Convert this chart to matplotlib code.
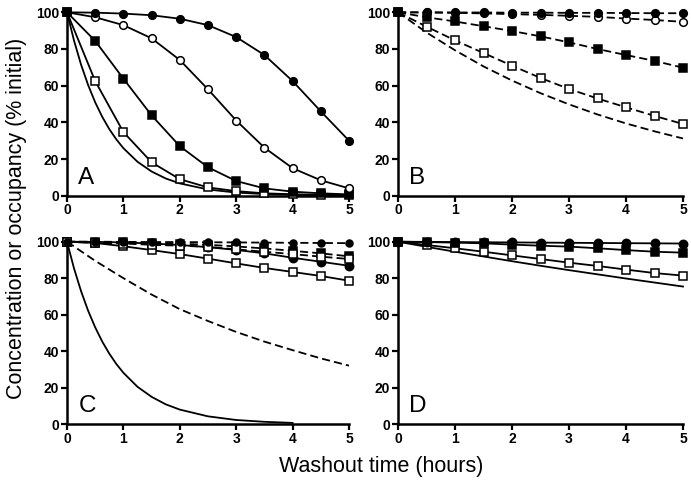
import matplotlib
matplotlib.use("Agg")
import matplotlib.pyplot as plt

plt.rcParams['font.family'] = ['Liberation Sans', 'DejaVu Sans']

######### Data #########
hours = [0, 0.5, 1, 1.5, 2, 2.5, 3, 3.5, 4, 4.5, 5]
fine_hours = [0, 0.125, 0.25, 0.375, 0.5, 0.625, 0.75, 0.875, 1,
              1.25, 1.5, 1.75, 2, 2.5, 3, 3.5, 4, 4.5, 5]

# panel A (solid)
a_filled_circle = [100, 99.8, 99.3, 98.4, 96.5, 93.0, 86.5, 76.7, 62.5, 46.0, 30.0]
a_open_circle = [100, 97.3, 93.0, 85.8, 74.0, 58.0, 41.0, 26.2, 15.0, 8.4, 4.0]
a_filled_square = [100, 84.4, 63.8, 43.8, 27.0, 15.5, 8.0, 4.0, 2.2, 1.3, 0.7]
a_open_square = [100, 62.5, 34.7, 18.2, 9.0, 4.5, 2.5, 1.3, 0.8, 0.5, 0.4]
a_curve = [100, 84.5, 71.4, 60.3, 50.9, 43.0, 36.3, 30.7, 25.9,
           18.5, 13.2, 9.4, 6.7, 3.4, 1.7, 0.9, 0.5, 0.2, 0.1]

# panel B (dashed)
b_filled_circle = [100, 100, 99.9, 99.9, 99.8, 99.8, 99.7, 99.7, 99.6, 99.5, 99.5]
b_open_circle = [100, 99.9, 99.7, 99.4, 99.0, 98.6, 98.1, 97.5, 96.6, 95.8, 94.8]
b_filled_square = [100, 97.3, 95.0, 92.4, 89.8, 86.9, 83.6, 80.0, 76.7, 73.5, 69.8]
b_open_square = [100, 92.2, 84.7, 77.8, 70.9, 64.2, 58.2, 53.0, 48.2, 43.5, 39.1]
b_curve = [100, 89.0, 79.3, 70.5, 62.8, 55.9, 49.8, 44.3, 39.4, 35.1, 31.2]

# panel C (mixed)
c_filled_circle_dash = [100, 100, 99.9, 99.8, 99.8, 99.7, 99.6, 99.5, 99.4, 99.3, 99.2]
c_filled_square_dash = [100, 99.8, 99.6, 99.3, 98.9, 98.3, 97.4, 96.3, 95.0, 93.6, 92.0]
c_open_square_dash = [100, 99.4, 99.0, 98.3, 97.8, 97.2, 95.8, 94.5, 93.2, 91.8, 90.5]
c_filled_circle_solid = [100, 99.9, 99.6, 99.0, 98.2, 97.0, 95.5, 93.6, 91.2, 89.0, 86.8]
c_open_square_solid = [100, 99.3, 97.5, 95.4, 93.2, 90.7, 88.1, 85.6, 83.4, 81.2, 78.6]
c_fast_hours = fine_hours[:-2]
c_fast_curve = [100, 85.3, 72.8, 62.1, 53.0, 45.2, 38.6, 32.9, 28.1,
                20.4, 14.9, 10.8, 7.9, 4.2, 2.2, 1.2, 0.6]
c_slow_curve = [100, 89.5, 80.0, 71.0, 63.0, 56.5, 50.5, 45.2, 40.5, 36.0, 32.0]

# panel D (solid)
d_filled_circle = [100, 99.9, 99.8, 99.7, 99.6, 99.5, 99.4, 99.3, 99.2, 99.1, 99.0]
d_filled_square = [100, 99.8, 99.5, 99.1, 98.4, 97.8, 97.3, 96.4, 95.4, 94.5, 94.0]
d_open_square = [100, 98.2, 96.4, 94.5, 92.5, 90.5, 88.5, 86.7, 84.7, 82.8, 81.4]
d_curve = [100, 97.2, 94.5, 91.9, 89.3, 86.8, 84.4, 82.1, 79.8, 77.6, 75.4]

DASH = (4.5, 2.3)
LW = 1.3


def series(ax, x, y, marker=None, filled=True, dashed=False, ms=None, z=3):
    kw = dict(color='black', lw=LW, clip_on=False, zorder=z)
    if dashed:
        kw['dashes'] = DASH
    if marker is not None:
        kw['marker'] = marker
        kw['markersize'] = ms if ms else (6.3 if marker == 's' else 5.5)
        kw['markerfacecolor'] = 'black' if filled else 'white'
        kw['markeredgecolor'] = 'black'
        kw['markeredgewidth'] = 1.1
    ax.plot(x, y, **kw)


def style(ax, letter):
    ax.set_xlim(0, 5)
    ax.set_ylim(0, 100)
    ax.set_xticks([0, 1, 2, 3, 4, 5])
    ax.set_yticks([0, 20, 40, 60, 80, 100])
    for s in ['top', 'right']:
        ax.spines[s].set_visible(False)
    for s in ['left', 'bottom']:
        ax.spines[s].set_linewidth(1.8)
    ax.tick_params(direction='out', length=4, width=1.6, pad=1.5,
                   labelsize=10)
    for lab in ax.get_xticklabels() + ax.get_yticklabels():
        lab.set_fontweight('bold')
    ax.text(0.2, 6.5, letter, fontsize=17.5, va='baseline', ha='left')


fig = plt.figure(figsize=(6.91, 4.86), dpi=100)
ax_a = fig.add_axes([67 / 691, 1 - 195.7 / 486, 282 / 691, 183.4 / 486])
ax_b = fig.add_axes([398 / 691, 1 - 195.7 / 486, 285 / 691, 183.4 / 486])
ax_c = fig.add_axes([67 / 691, 1 - 424 / 486, 282 / 691, 182.3 / 486])
ax_d = fig.add_axes([398 / 691, 1 - 424 / 486, 285 / 691, 182.3 / 486])

# A
series(ax_a, fine_hours, a_curve)
series(ax_a, hours, a_open_square, 's', filled=False)
series(ax_a, hours, a_filled_square, 's', ms=5.8)
series(ax_a, hours, a_open_circle, 'o', filled=False)
series(ax_a, hours, a_filled_circle, 'o')
style(ax_a, 'A')

# B
series(ax_b, hours, b_curve, dashed=True)
series(ax_b, hours, b_open_square, 's', filled=False, dashed=True)
series(ax_b, hours, b_filled_square, 's', dashed=True, ms=5.8)
series(ax_b, hours, b_open_circle, 'o', filled=False, dashed=True)
series(ax_b, hours, b_filled_circle, 'o', dashed=True)
style(ax_b, 'B')

# C
series(ax_c, c_fast_hours, c_fast_curve)
series(ax_c, hours, c_slow_curve, dashed=True)
series(ax_c, hours, c_open_square_solid, 's', filled=False)
series(ax_c, hours, c_filled_circle_solid, 'o', ms=6)
series(ax_c, hours, c_filled_square_dash, 's', dashed=True, ms=5.8)
series(ax_c, hours, c_open_square_dash, 's', filled=False, dashed=True)
series(ax_c, hours, c_filled_circle_dash, 'o', dashed=True, ms=5)
style(ax_c, 'C')

# D
series(ax_d, hours, d_curve)
series(ax_d, hours, d_open_square, 's', filled=False)
series(ax_d, hours, d_filled_square, 's', ms=5.8)
series(ax_d, hours, d_filled_circle, 'o', ms=6)
style(ax_d, 'D')

fig.text(17 / 691, 1 - 218 / 486, 'Concentration or occupancy (% initial)',
         rotation=90, ha='center', va='center', fontsize=15.5)
fig.text(381 / 691, 1 - 466 / 486, 'Washout time (hours)',
         ha='center', va='center', fontsize=15.5)

fig.savefig('out.png', dpi=100)
